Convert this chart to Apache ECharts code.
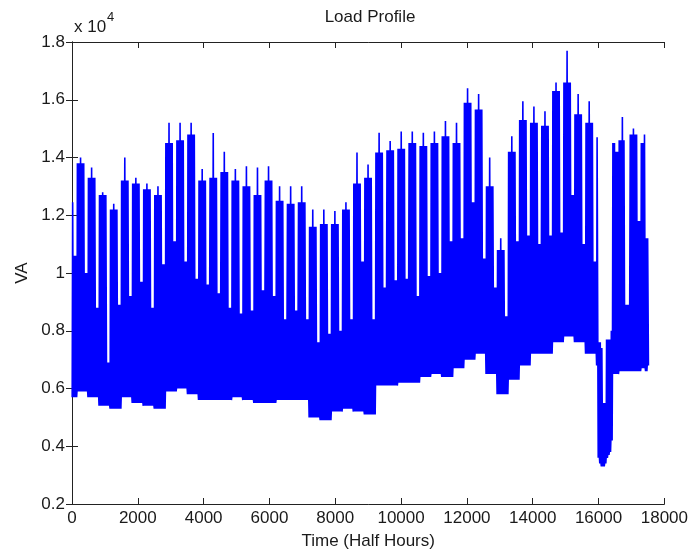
<!DOCTYPE html>
<html lang="en">
<head>
  <meta charset="UTF-8">
  <title>Load Profile</title>
  <script src="https://cdn.jsdelivr.net/npm/echarts@6/dist/echarts.min.js"></script>
  <style>
    html, body { margin: 0; background: #fff; }
    #chart { width: 691px; height: 555px; }
  </style>
</head>
<body>
  <div id="chart"></div>
  <script>
    // half-hourly load, one year, read off the plot week by week
    // data starts on a Friday: block k = Mon..Fri, weekend k = the Sat/Sun after it
    var blockTop = [12450, 14000, 13650, 12800, 12400, 14000, 13300, 13100, 13000, 15200,
      15200, 15200, 13600, 14850, 14200, 13600, 13700, 13650, 13700, 13000,
      13000, 13000, 12200, 12200, 12150, 12450, 14170, 13760, 14860, 14570,
      14900, 14900, 14860, 14900, 15260, 15200, 16400, 16200, 14000, 11200,
      14740, 15950, 15770, 15600, 16600, 17700, 16200, 15950, 15150, 15000,
      15400, 15000, 14800]
    var blockTyp = [12450, 13800, 13300, 12700, 12200, 13200, 13100, 12900, 12700, 14500,
      14600, 14800, 13200, 13300, 13500, 13200, 13000, 12700, 13200, 12500,
      12400, 12450, 11600, 11700, 11700, 12200, 13100, 13300, 14170, 14250,
      14300, 14500, 14400, 14500, 14740, 14500, 15900, 15660, 13000, 10800,
      14200, 15300, 15200, 15100, 16300, 16600, 15500, 15200, 14700, 14500,
      14600, 14800, 14500]
    var weekendPeak = [10600, 10000, 8800, 6900, 8900, 9200, 9700, 8800, 10300, 11100,
      10400, 9800, 9600, 9300, 8800, 8600, 8700, 9400, 9200, 8400,
      8700, 8400, 7600, 7900, 8000, 8400, 10400, 8400, 9500, 9750,
      9800, 9200, 9900, 10000, 11100, 11200, 12450, 10500, 9500, 8500,
      11100, 11300, 11000, 11300, 11400, 12700, 11000, 10400, 5500, 14200,
      8900, 11800]
    var weekLow = [5700, 5900, 5700, 5400, 5300, 5700, 5500, 5400, 5300, 5900,
      6000, 5800, 5600, 5600, 5600, 5700, 5600, 5500, 5500, 5600,
      5600, 5600, 5000, 4900, 5200, 5300, 5200, 5100, 6100, 6100,
      6200, 6200, 6400, 6500, 6400, 6700, 7000, 7200, 6500, 5800,
      6300, 6800, 7200, 7200, 7600, 7800, 7600, 7200, 6800, 6500,
      6600, 6600, 6700]
    // days that do not follow the weekly pattern: [day, peak, low]
    var oddDays = [
      [333, 7600, 3600], [334, 7600, 3400], [335, 7400, 3300], [336, 5500, 3300],
      [337, 5500, 3400], [338, 7700, 3600], [339, 7700, 3700], [340, 7700, 3800],
      [341, 8000, 4200], [350, 8900, 6600], [363, 11200, 6600], [364, 11200, 6800]
    ]
    var nDays = 365
    var yTicks = ['0.2', '0.4', '0.6', '0.8', '1', '1.2', '1.4', '1.6', '1.8']

    var odd = {}
    oddDays.forEach(function (o) { odd[o[0]] = o })

    var data = []
    for (var d = 0; d < nDays; d++) {
      var s = d + 4
      var k = Math.floor(s / 7)
      var dow = s % 7
      var peak = dow >= 5 ? weekendPeak[k] : (dow == 2 ? blockTop[k] : blockTyp[k])
      var low = weekLow[k]
      if (odd[d]) { peak = odd[d][1]; low = odd[d][2] }
      var t = d * 48
      data.push([t + 6, low], [t + 20, peak], [t + 30, peak], [t + 44, low])
    }

    var font = "'Liberation Sans', Arial, sans-serif"
    var txt = '#1a1a1a'
    var axisCommon = {
      axisLine: { show: true, lineStyle: { color: '#222', width: 1 } },
      axisTick: { show: true, inside: true, length: 6, lineStyle: { color: '#222' } },
      splitLine: { show: false }
    }

    var chart = echarts.init(document.getElementById('chart'))
    chart.setOption({
      animation: false,
      backgroundColor: '#fff',
      grid: { left: 72, right: 24, top: 42, bottom: 48 },
      graphic: [
        { type: 'text', x: 370, y: 17, style: { text: 'Load Profile', font: '17px ' + font, fill: txt, align: 'center', verticalAlign: 'middle', textAlign: 'center', textVerticalAlign: 'middle' } },
        { type: 'text', x: 74, y: 27, style: { text: 'x 10', font: '17px ' + font, fill: txt, align: 'left', verticalAlign: 'middle', textAlign: 'left', textVerticalAlign: 'middle' } },
        { type: 'text', x: 107, y: 17, style: { text: '4', font: '13px ' + font, fill: txt, align: 'left', verticalAlign: 'middle', textAlign: 'left', textVerticalAlign: 'middle' } }
      ],
      xAxis: [
        Object.assign({
          type: 'value', min: 0, max: 18000, interval: 2000, position: 'bottom',
          name: 'Time (Half Hours)', nameLocation: 'middle', nameGap: 29,
          nameTextStyle: { fontFamily: font, fontSize: 17, color: txt },
          axisLabel: {
            fontFamily: font, fontSize: 17, color: txt, margin: 6,
            formatter: function (v) { return String(v) }
          }
        }, axisCommon),
        Object.assign({
          type: 'value', min: 0, max: 18000, interval: 2000, position: 'top',
          axisLabel: { show: false }
        }, axisCommon)
      ],
      yAxis: [
        Object.assign({
          type: 'value', min: 2000, max: 18000, interval: 2000, position: 'left',
          name: 'VA', nameLocation: 'middle', nameGap: 40,
          nameTextStyle: { fontFamily: font, fontSize: 17, color: txt },
          axisLabel: {
            fontFamily: font, fontSize: 17, color: txt, margin: 7,
            formatter: function (v) { return yTicks[Math.round((v - 2000) / 2000)] }
          }
        }, axisCommon),
        Object.assign({
          type: 'value', min: 2000, max: 18000, interval: 2000, position: 'right',
          axisLabel: { show: false }
        }, axisCommon)
      ],
      series: [{
        type: 'line',
        data: data,
        showSymbol: false,
        symbol: 'none',
        lineStyle: { color: '#0000ff', width: 1.6 },
        itemStyle: { color: '#0000ff' },
        silent: true
      }]
    })
  </script>
</body>
</html>
